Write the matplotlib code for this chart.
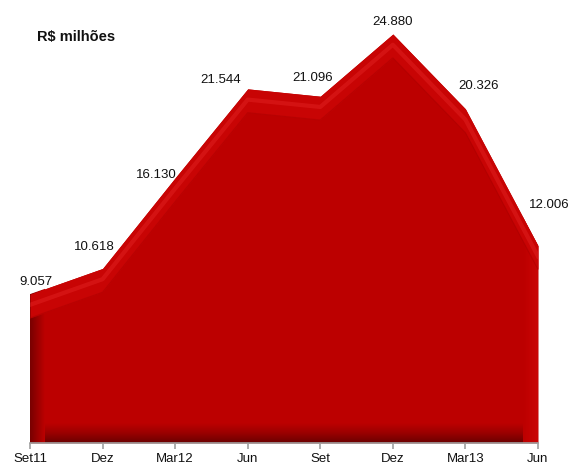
import matplotlib
matplotlib.use("Agg")
import matplotlib.pyplot as plt
import numpy as np
from matplotlib.colors import LinearSegmentedColormap

categories = ["Set11", "Dez", "Mar12", "Jun", "Set", "Dez", "Mar13", "Jun"]
values = [9.057, 10.618, 16.130, 21.544, 21.096, 24.880, 20.326, 12.006]
labels = ["9.057", "10.618", "16.130", "21.544", "21.096", "24.880", "20.326", "12.006"]
label_offsets = [(6, 12), (-8, 21), (-19, 3), (-27, 9), (-8, 18), (0, 12), (13, 23), (11, 41)]

plt.rcParams['font.family'] = ['Liberation Sans', 'DejaVu Sans']

fig = plt.figure(figsize=(5.69, 4.65), dpi=100)
ax = fig.add_axes([30/569, 22/465, 508/569, 443/465])
x = np.arange(len(categories))
y = np.array(values)
ax.set_xlim(0, len(categories) - 1)
ax.set_ylim(0, 26.95)

base = "#BC0000"
poly = ax.fill_between(x, 0, y, color=base, lw=0, zorder=1)
clip = poly.get_paths()[0]

# bottom darker band (gradient)
grad = LinearSegmentedColormap.from_list("g", ["#6A0000", "#9A0000", base])
img = np.linspace(0, 1, 60).reshape(-1, 1)
im = ax.imshow(img, extent=[0, len(categories) - 1, 0, 1.2], origin="lower",
               aspect="auto", cmap=grad, zorder=2)
# left darker edge
gl = LinearSegmentedColormap.from_list("gl", ["#780000", base])
img2 = np.linspace(0, 1, 60).reshape(1, -1)
im2 = ax.imshow(img2, extent=[0, 0.2, 0, 30], origin="lower", aspect="auto",
                cmap=gl, zorder=2)
gr = LinearSegmentedColormap.from_list("gr", [base, "#CA0505"])
im3 = ax.imshow(img2, extent=[len(categories) - 1.2, len(categories) - 1, 0, 30],
                origin="lower", aspect="auto", cmap=gr, zorder=2)
for i_ in (im, im2, im3):
    i_.set_clip_path(clip, transform=ax.transData)

# top bevel band
d = 1.45
ax.fill_between(x, np.maximum(y - d, 0), y, color="#C80404", lw=0, zorder=3)
ax.plot(x, y - d * 0.45, color="#F03535", lw=3, alpha=0.3, zorder=4,
        solid_joinstyle="round")
ax.plot(x, y - d, color="#A50000", lw=0.8, alpha=0.45, zorder=4)

for xi, yi, lab, (dx, dy) in zip(x, y, labels, label_offsets):
    ax.annotate(lab, (xi, yi), xytext=(dx, dy), textcoords="offset pixels",
                ha="center", va="center", fontsize=9.5, color="#111111",
                annotation_clip=False, zorder=6)

for s in ["top", "right", "left"]:
    ax.spines[s].set_visible(False)
ax.spines["bottom"].set_color("#A0A0A0")
ax.spines["bottom"].set_linewidth(1.2)
ax.set_yticks([])
ax.set_xticks(x)
ax.set_xticklabels(categories, fontsize=9.5, color="#111111")
ax.tick_params(axis="x", length=4, color="#A0A0A0", width=1.2, pad=3)

fig.text(37/569, 1 - 37/465, "R$ milhões", fontsize=10.5, fontweight="bold",
         ha="left", va="center", color="#111111")

fig.savefig("out.png", dpi=100)
